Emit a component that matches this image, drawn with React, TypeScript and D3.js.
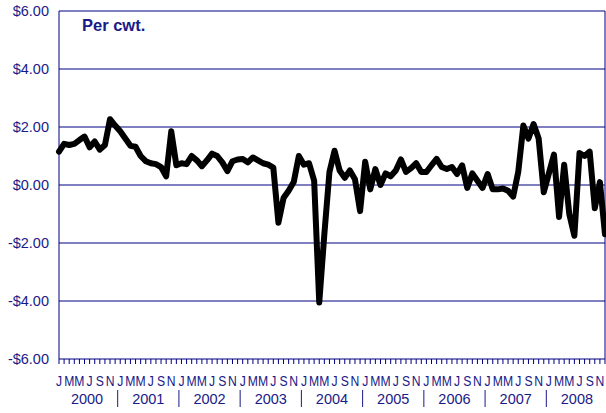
import React from "react";
import * as d3 from "d3";

const years = ["2000", "2001", "2002", "2003", "2004", "2005", "2006", "2007", "2008"];
const monthLetters = ["J", "", "M", "", "M", "", "J", "", "S", "", "N", ""];
const yTicks = [6, 4, 2, 0, -2, -4, -6];
const title = "Per cwt.";

// Monthly values, Jan 2000 - Dec 2008 ($ per cwt.)
const values2000 = [1.15, 1.42, 1.38, 1.42, 1.55, 1.67, 1.30, 1.50, 1.22, 1.38, 2.27, 2.05];
const values2001 = [1.85, 1.60, 1.35, 1.32, 1.00, 0.82, 0.75, 0.72, 0.62, 0.30, 1.85, 0.68];
const values2002 = [0.75, 0.72, 1.00, 0.85, 0.65, 0.85, 1.08, 1.00, 0.78, 0.48, 0.82, 0.88];
const values2003 = [0.90, 0.78, 0.95, 0.85, 0.75, 0.70, 0.60, -1.30, -0.45, -0.20, 0.10, 1.00];
const values2004 = [0.70, 0.75, 0.15, -4.05, -1.70, 0.45, 1.18, 0.50, 0.25, 0.50, 0.20, -0.90];
const values2005 = [0.80, -0.15, 0.55, 0.00, 0.40, 0.30, 0.50, 0.88, 0.45, 0.58, 0.75, 0.45];
const values2006 = [0.45, 0.68, 0.90, 0.62, 0.55, 0.62, 0.38, 0.68, -0.10, 0.40, 0.15, -0.10];
const values2007 = [0.38, -0.15, -0.15, -0.12, -0.20, -0.40, 0.45, 2.05, 1.60, 2.10, 1.60, -0.25];
const values2008 = [0.40, 1.05, -1.10, 0.70, -1.00, -1.75, 1.10, 1.00, 1.15, -0.80, 0.10, -1.70];

const series = [
  ...values2000, ...values2001, ...values2002, ...values2003, ...values2004,
  ...values2005, ...values2006, ...values2007, ...values2008,
];

const NAVY = "#000080";
const TEXT = "#1a1a88";
const FONT = "Liberation Sans, Arial, sans-serif";

export default function App() {
  const left = 59, right = 605, top = 11, bottom = 359;
  const x = d3.scaleLinear().domain([0, series.length - 1]).range([left, right]);
  const y = d3.scaleLinear().domain([-6, 6]).range([bottom, top]);
  const line = d3.line<number>().x((_, i) => x(i)).y((d) => y(d));
  const sx = 0.84;

  return (
    <svg width={606} height={413} style={{ position: "absolute", left: 0, top: 0, background: "#fff" }}
      fontFamily={FONT}>
      {yTicks.map((t) => (
        <g key={t}>
          <line x1={left} x2={right} y1={y(t)} y2={y(t)} stroke={NAVY} strokeWidth={1} />
          <text x={49} y={y(t)} dy="0.36em" textAnchor="end" fontSize={14.5} fill={TEXT}>
            {t < 0 ? `-$${Math.abs(t).toFixed(2)}` : `$${t.toFixed(2)}`}
          </text>
        </g>
      ))}
      <line x1={left} x2={left} y1={top} y2={bottom} stroke={NAVY} strokeWidth={1} />
      <line x1={right} x2={right} y1={top} y2={bottom} stroke={NAVY} strokeWidth={1} />
      {series.map((_, i) => (
        <line key={i} x1={x(i)} x2={x(i)} y1={bottom} y2={bottom + 5} stroke={NAVY} strokeWidth={1} />
      ))}
      {series.map((_, i) => {
        const m = monthLetters[i % 12];
        return m ? (
          <text key={"m" + i} transform={`translate(${x(i)},386) scale(${sx},1)`} textAnchor="middle"
            fontSize={14.5} fill={TEXT}>{m}</text>
        ) : null;
      })}
      {years.map((yr, k) => (
        <g key={yr}>
          <text x={x(k * 12 + 5.5)} y={404} textAnchor="middle" fontSize={14.5} fill={TEXT}>{yr}</text>
          {k > 0 && (
            <line x1={x(k * 12 - 0.5)} x2={x(k * 12 - 0.5)} y1={390} y2={407} stroke={TEXT} strokeWidth={1} />
          )}
        </g>
      ))}
      <text x={82} y={31} fontSize={16.5} fontWeight="bold" fill={TEXT}>{title}</text>
      <path d={line(series) || ""} fill="none" stroke="#000" strokeWidth={6}
        strokeLinejoin="round" strokeLinecap="round" />
    </svg>
  );
}
